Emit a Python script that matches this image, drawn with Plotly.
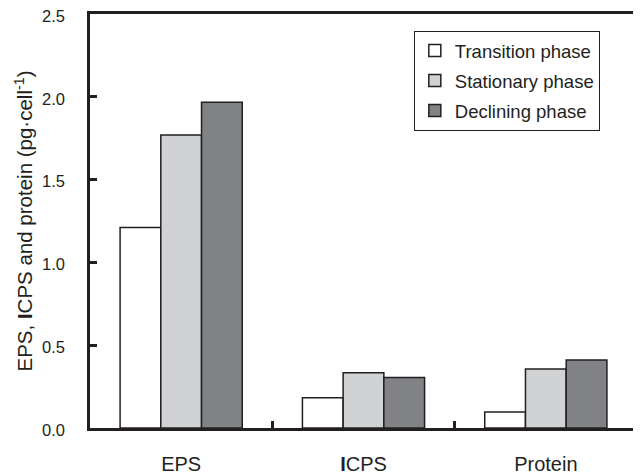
import plotly.graph_objects as go

categories = ["EPS", "<b>I</b>CPS", "Protein"]
series_names = ["Transition phase", "Stationary phase", "Declining phase"]
transition = [1.21, 0.183, 0.097]
stationary = [1.77, 0.333, 0.357]
declining = [1.967, 0.305, 0.41]
colors = ["#ffffff", "#d1d2d4", "#808285"]

ink = "#231f20"
font_family = "Liberation Sans, Arial, sans-serif"

fig = go.Figure()
for name, vals, col in zip(series_names, [transition, stationary, declining], colors):
    fig.add_trace(go.Bar(
        x=categories, y=vals, name=name, legendgroup=name,
        marker=dict(color=col, line=dict(color=ink, width=1.5)),
    ))

# page body has an 8px margin, so the figure is sized to fit the window
fig.update_layout(
    width=633, height=467,
    margin=dict(l=82, r=4, t=6, b=47),
    paper_bgcolor="white", plot_bgcolor="white",
    barmode="group", bargap=0.33, bargroupgap=0,
    font=dict(family=font_family, size=16, color=ink),
    legend=dict(
        x=0.592, y=0.959, xanchor="left", yanchor="top",
        bordercolor=ink, borderwidth=1, bgcolor="white",
        font=dict(size=18.5, color=ink), tracegroupgap=3,
        itemwidth=30,
    ),
    xaxis=dict(
        type="category", range=[-0.5, 2.5], automargin=False,
        showline=True, linecolor=ink, linewidth=2.5, mirror=True,
        ticks="inside", tickson="boundaries", ticklen=7, tickwidth=2.5, tickcolor=ink,
        ticklabelstandoff=16, showgrid=False,
        tickfont=dict(size=20),
    ),
    yaxis=dict(
        range=[0, 2.5], dtick=0.5, tickformat=".1f", automargin=False,
        showline=True, linecolor=ink, linewidth=2.5, mirror=True,
        ticks="inside", ticklen=7, tickwidth=2.5, tickcolor=ink,
        ticklabelstandoff=19, showgrid=False, zeroline=False,
        ticklabeloverflow="allow", ticklabelshift=2,
        tickfont=dict(size=16.5),
        title=dict(text="EPS, <b>I</b>CPS and protein (pg·cell<sup>-1</sup>)", font=dict(size=20.5), standoff=4),
    ),
)

fig.write_html("out.html")
